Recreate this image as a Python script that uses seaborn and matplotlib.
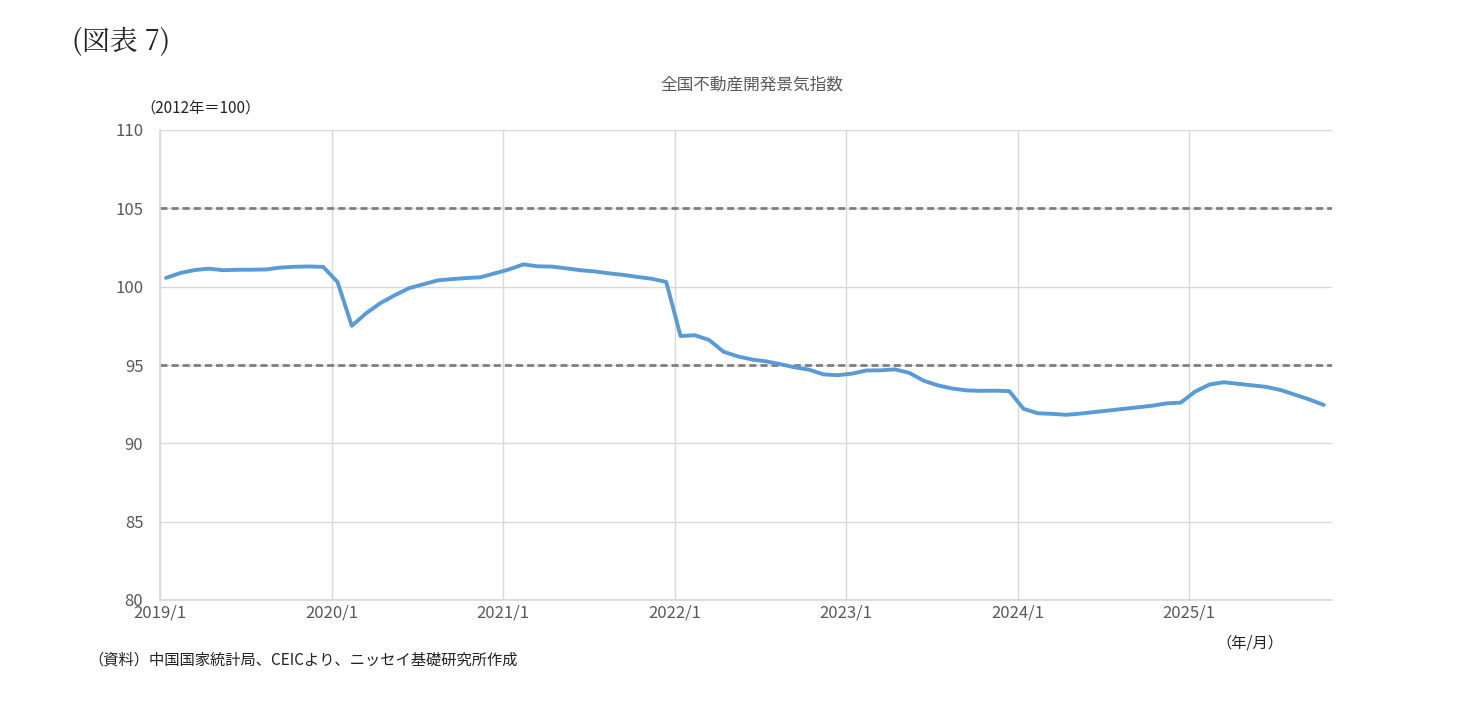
import matplotlib
matplotlib.use("Agg")
import matplotlib.pyplot as plt
import seaborn as sns
import numpy as np
import pandas as pd

sns.set_theme(style="white")
plt.rcParams['font.family'] = ['Noto Sans CJK JP', 'DejaVu Sans']

v2019 = [100.56, 100.87, 101.06, 101.15, 101.05, 101.08, 101.08, 101.10, 101.22, 101.27, 101.29, 101.26]
v2020 = [100.3, 97.5, 98.3, 98.95, 99.45, 99.9, 100.15, 100.4, 100.48, 100.55, 100.6, 100.85]
v2021 = [101.1, 101.42, 101.3, 101.28, 101.17, 101.05, 100.97, 100.85, 100.75, 100.62, 100.5, 100.3]
v2022 = [96.85, 96.9, 96.6, 95.85, 95.55, 95.35, 95.23, 95.05, 94.85, 94.7, 94.4, 94.35]
v2023 = [94.45, 94.65, 94.66, 94.72, 94.5, 94.0, 93.7, 93.5, 93.38, 93.35, 93.36, 93.33]
v2024 = [92.2, 91.92, 91.88, 91.82, 91.9, 92.0, 92.1, 92.2, 92.3, 92.4, 92.55, 92.6]
v2025 = [93.3, 93.75, 93.9, 93.8, 93.7, 93.6, 93.4, 93.1, 92.8, 92.45]
values = v2019 + v2020 + v2021 + v2022 + v2023 + v2024 + v2025
tick_labels = ["2019/1", "2020/1", "2021/1", "2022/1", "2023/1", "2024/1", "2025/1"]
ref_lines = [105, 95]

df = pd.DataFrame({"m": np.arange(len(values)) + 0.42, "v": values})

fig = plt.figure(figsize=(14.71, 7.09), dpi=100)
ax = fig.add_axes([160/1471, 1 - 600/709, (1332-160)/1471, (600-130)/709])
for r in ref_lines:
    ax.axhline(r, color="#7f7f7f", lw=2, ls=(0, (2.5, 1.5)), zorder=2)
sns.lineplot(data=df, x="m", y="v", ax=ax, color="#5b9bd5", lw=2.8, zorder=3)
ax.set_xlim(0, 82)
ax.set_ylim(80, 110)
ax.set_xticks(np.arange(0, 84, 12))
ax.set_xticklabels(tick_labels)
ax.set_yticks(np.arange(80, 111, 5))
ax.grid(True, color="#d9d9d9", lw=1)
ax.set_axisbelow(True)
for s in ["top", "right"]:
    ax.spines[s].set_visible(False)
for s in ["left", "bottom"]:
    ax.spines[s].set_color("#d9d9d9")
ax.tick_params(axis="both", labelsize=12, colors="#595959", length=0)
ax.tick_params(axis="y", pad=12)
ax.tick_params(axis="x", pad=3)
ax.set_xlabel(""); ax.set_ylabel("")

fig.text(72/1471, 1 - 42/709, "(図表 7)", fontsize=20, family=["Noto Serif CJK JP", "Noto Sans CJK JP", "DejaVu Sans"], va="center", color="#222222")
fig.text(752/1471, 1 - 85/709, "全国不動産開発景気指数", fontsize=12, color="#595959", ha="center", va="center")
fig.text(140/1471, 1 - 108/709, "（2012年＝100）", fontsize=11, color="#222222", va="center")
fig.text(1283/1471, 1 - 643/709, "（年/月）", fontsize=11, color="#222222", ha="right", va="center")
fig.text(88/1471, 1 - 660/709, "（資料）中国国家統計局、CEICより、ニッセイ基礎研究所作成", fontsize=11, color="#222222", va="center")

fig.savefig("out.png", dpi=100)
